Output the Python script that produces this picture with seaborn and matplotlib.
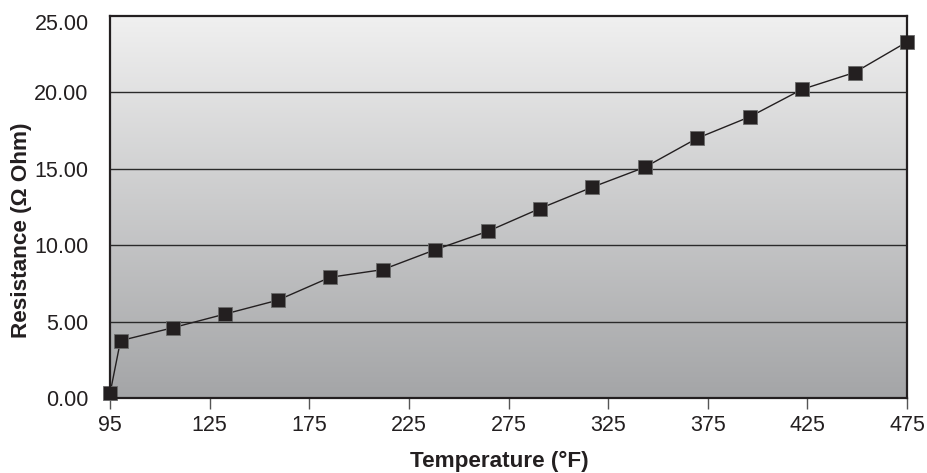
import numpy as np
import pandas as pd
import matplotlib
matplotlib.use("Agg")
import matplotlib.pyplot as plt
import matplotlib.transforms as mtransforms
import seaborn as sns
from matplotlib.colors import LinearSegmentedColormap

# ---- data ----
temperature = [95, 100, 125, 150, 175, 200, 225, 250, 275, 300, 325, 350, 375, 400, 425, 450, 475]
resistance = [0.3, 3.75, 4.6, 5.5, 6.4, 7.9, 8.4, 9.7, 10.9, 12.4, 13.8, 15.1, 17.0, 18.4, 20.2, 21.3, 23.3]
x_tick_labels = ["95", "125", "175", "225", "275", "325", "375", "425", "475"]
y_ticks = [0, 5, 10, 15, 20, 25]

df = pd.DataFrame({"Temperature": temperature, "Resistance": resistance})

sns.set_theme(style="white")
plt.rcParams["font.family"] = ["Liberation Sans", "DejaVu Sans"]

fig = plt.figure(figsize=(9.27, 4.73), dpi=100)
ax = fig.add_axes([0.1187, 0.1586, 0.8597, 0.8076])

# gradient background
cmap = LinearSegmentedColormap.from_list("bg", ["#a4a5a7", "#f0f0f0"])
grad = np.linspace(0, 1, 256).reshape(-1, 1)
ax.imshow(grad, cmap=cmap, aspect="auto", origin="lower",
          extent=[0, 1, 0, 1], transform=ax.transAxes, zorder=0)

for yv in y_ticks[1:-1]:
    ax.axhline(yv, color="#2a2a2a", lw=1.0, zorder=1)

sns.lineplot(data=df, x="Temperature", y="Resistance", ax=ax, color="#231f20",
             lw=1.0, marker="s", markersize=9.5, markerfacecolor="#231f20",
             markeredgecolor="#6a6a6a", markeredgewidth=0.6, zorder=3, clip_on=False)

ax.set_xlim(95, 475)
ax.set_ylim(0, 25)
ax.set_xticks(np.linspace(95, 475, len(x_tick_labels)))
ax.set_xticklabels(x_tick_labels)
ax.set_yticks(y_ticks)
ax.set_yticklabels([f"{v:.2f}" for v in y_ticks])

ax.tick_params(axis="x", which="major", bottom=True, direction="out", length=8,
               width=1, color="#555555", labelsize=15.5, labelcolor="#231f20", pad=4)
ax.tick_params(axis="y", which="major", left=False, labelsize=15.5,
               labelcolor="#231f20", pad=9.5)

# top label nudged down slightly as in the reference
top_lbl = ax.get_yticklabels()[-1]
top_lbl.set_transform(top_lbl.get_transform() +
                      mtransforms.ScaledTranslation(0, -6 / 100, fig.dpi_scale_trans))

for s in ax.spines.values():
    s.set_color("#231f20")
    s.set_linewidth(1.6)
    s.set_visible(True)
    s.set_zorder(4)

ax.set_xlabel("Temperature (°F)", fontsize=16.2, fontweight="bold", color="#231f20")
ax.set_ylabel("Resistance (Ω Ohm)", fontsize=16.2, fontweight="bold", color="#231f20")
ax.xaxis.set_label_coords(0.488, -0.138)
ax.yaxis.set_label_coords(-0.098, 0.44)
ax.grid(False)

fig.savefig("out.png", dpi=100)
